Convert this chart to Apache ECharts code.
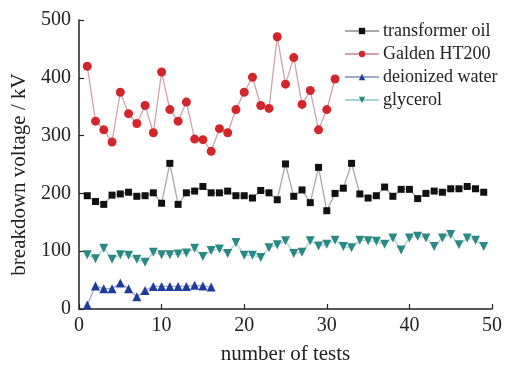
<!DOCTYPE html>
<html>
<head>
<meta charset="utf-8">
<script src="https://cdn.jsdelivr.net/npm/echarts@6/dist/echarts.min.js"></script>
<style>html,body{margin:0;padding:0;background:#fff}#c{width:505px;height:370px}</style>
</head>
<body>
<div id="c"></div>
<script>
var seriesNames = ['transformer oil', 'Galden HT200', 'deionized water', 'glycerol'];
var transformerOil = [196,186,181,197,199,202,195,196,201,183,252,181,201,204,212,201,201,204,196,196,192,205,201,189,251,195,206,184,245,170,200,209,252,199,192,196,211,195,207,207,191,200,204,202,208,208,212,208,202];
var galden = [420,325,310,289,375,338,321,352,305,410,345,325,358,294,293,273,312,305,345,375,401,352,347,471,389,435,354,378,310,345,398];
var water = [7,40,35,35,45,35,21,32,39,39,39,39,39,41,40,38];
var glycerol = [94,87,105,86,94,93,86,81,98,94,94,95,97,105,91,101,104,96,115,93,93,89,106,111,118,96,98,118,109,112,119,108,106,119,118,117,112,123,102,123,126,123,108,123,129,111,123,119,108];
var xTicks = [0,10,20,30,40,50];
var yTicks = [0,100,200,300,400,500];

function pairs(arr){ return arr.map(function(v,i){ return [i+1, v]; }); }

var font = 'Liberation Serif, Times New Roman, serif';
var chart = echarts.init(document.getElementById('c'), null, {renderer:'canvas'});
chart.setOption({
  animation:false,
  backgroundColor:'#fff',
  textStyle:{fontFamily:font},
  grid:{left:79, right:11, top:20, bottom:49, containLabel:false},
  legend:{
    orient:'vertical', left:339, top:17, itemWidth:34, itemHeight:8, itemGap:5,
    textStyle:{fontFamily:font, fontSize:18, color:'#222', lineHeight:18, padding:[0,0,0,-1]},
    data:seriesNames
  },
  xAxis:{
    type:'value', min:xTicks[0], max:xTicks[xTicks.length-1], interval:10,
    name:'number of tests', nameLocation:'middle', nameGap:35,
    nameTextStyle:{fontFamily:font, fontSize:21, color:'#222'},
    axisLine:{show:true, onZero:false, lineStyle:{color:'#222', width:1.5}},
    axisTick:{show:true, inside:true, length:5, lineStyle:{color:'#222', width:1.2}},
    axisLabel:{fontFamily:font, fontSize:20, color:'#222', margin:7},
    splitLine:{show:false}
  },
  yAxis:{
    type:'value', min:yTicks[0], max:yTicks[yTicks.length-1], interval:100,
    name:'breakdown voltage / kV', nameLocation:'middle', nameGap:38,
    nameTextStyle:{fontFamily:font, fontSize:21, color:'#222', padding:[0,20,0,0]},
    axisLine:{show:true, lineStyle:{color:'#222', width:1.5}},
    axisTick:{show:true, inside:true, length:5, lineStyle:{color:'#222', width:1.2}},
    axisLabel:{fontFamily:font, fontSize:20, color:'#222', margin:8},
    splitLine:{show:false}
  },
  series:[
    {name:seriesNames[0], type:'line', data:pairs(transformerOil), symbol:'rect', symbolSize:7,
     itemStyle:{color:'#111'}, lineStyle:{color:'#a8a8a8', width:1.3}},
    {name:seriesNames[1], type:'line', data:pairs(galden), symbol:'circle', symbolSize:9,
     itemStyle:{color:'#d3262b'}, lineStyle:{color:'#cfa3ab', width:1.3}},
    {name:seriesNames[2], type:'line', data:pairs(water), symbol:'triangle', symbolSize:9,
     itemStyle:{color:'#1f3c9c'}, lineStyle:{color:'#9eaacb', width:1.3}},
    {name:seriesNames[3], type:'line', data:pairs(glycerol), symbol:'triangle', symbolRotate:180, symbolSize:9,
     itemStyle:{color:'#2a8985'}, lineStyle:{color:'#a7d3d1', width:1.3}}
  ]
});
</script>
</body>
</html>
